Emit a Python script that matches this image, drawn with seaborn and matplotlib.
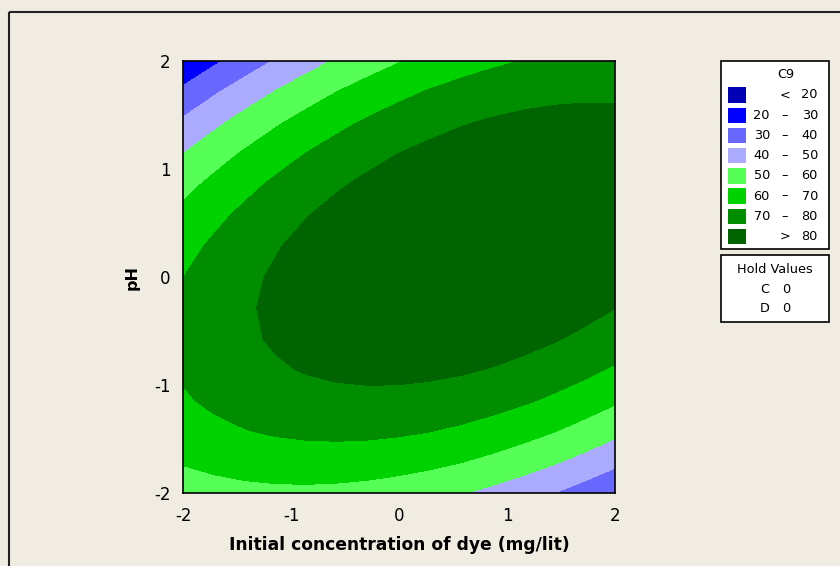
import numpy as np
import matplotlib
matplotlib.use("Agg")
import matplotlib.pyplot as plt
import seaborn as sns
from matplotlib.patches import Rectangle

# ---------------- data ----------------
x_label = "Initial concentration of dye (mg/lit)"
y_label = "pH"
x_ticks = [-2, -1, 0, 1, 2]
y_ticks = [-2, -1, 0, 1, 2]
# quadratic response-surface model (coded units), coefficients
terms = ["const", "A", "B", "A^2", "B^2", "AB"]
coefs = [89.2, 3.47, 1.12, -3.1, -8.0, 4.72]
levels = [20, 30, 40, 50, 60, 70, 80]
legend_left = ["", "20", "30", "40", "50", "60", "70", ""]
legend_sym = ["<", "–", "–", "–", "–", "–", "–", ">"]
legend_right = ["20", "30", "40", "50", "60", "70", "80", "80"]
colors = ["#0000B4", "#0000FF", "#6868FF", "#AAAAFF", "#55FF55", "#00D200", "#008E00", "#006400"]
legend_title = "C9"
hold_title = "Hold Values"
hold_factors = ["C", "D"]
hold_values = [0, 0]

# ---------------- style ----------------
sns.set_style("white")
plt.rcParams["font.family"] = ["DejaVu Sans"]
plt.rcParams["axes.unicode_minus"] = False
plt.rcParams["text.color"] = "black"
plt.rcParams["axes.labelcolor"] = "black"
bg = "#F0ECE2"

W, H = 840, 566
fig = plt.figure(figsize=(W / 100, H / 100), dpi=100, facecolor=bg)

# main axes in pixel layout
L, R, T, B = 183, 615, 61, 493
ax = fig.add_axes([L / W, (H - B) / H, (R - L) / W, (B - T) / H])

pal = sns.color_palette(colors)
grid = np.linspace(x_ticks[0], x_ticks[-1], 15)
A, Bm = np.meshgrid(grid, grid)
c0, c1, c2, c11, c22, c12 = coefs
Z = c0 + c1 * A + c2 * Bm + c11 * A ** 2 + c22 * Bm ** 2 + c12 * A * Bm
cs = ax.contourf(A, Bm, Z, levels=[-1e4] + levels + [1e4], colors=pal)
try:
    cs.set_edgecolor("face")
    cs.set_linewidth(0.3)
except Exception:
    pass

ax.set_xlim(x_ticks[0], x_ticks[-1])
ax.set_ylim(y_ticks[0], y_ticks[-1])
ax.set_xticks(x_ticks)
ax.set_yticks(y_ticks)
ax.set_xticklabels([str(v) for v in x_ticks])
ax.set_yticklabels([str(v) for v in y_ticks])
ax.tick_params(direction="out", length=5.5, width=1.1, color="black",
               labelsize=12, labelcolor="black", pad=3.5)
ax.tick_params(axis="x", pad=4.5)
for s in ax.spines.values():
    s.set_visible(True)
    s.set_color("black")
    s.set_linewidth(1.2)

ax.set_xlabel(x_label, fontsize=12.3, fontweight="bold", va="center", color="black")
ax.xaxis.set_label_coords(0.5, (B - 545) / (B - T))
ax.set_ylabel(y_label, fontsize=11.5, fontweight="bold", va="center", color="black")
ax.yaxis.set_label_coords((131.7 - L) / (R - L), 0.5)

# ---------------- overlay in pixel coordinates ----------------
ov = fig.add_axes([0, 0, 1, 1], facecolor="none")
ov.set_xlim(0, W)
ov.set_ylim(H, 0)
ov.axis("off")

# figure border
ov.add_patch(Rectangle((8.5, 11.5), W, H, fill=False, edgecolor="#222222",
                       linewidth=1.5, clip_on=False))

fs = 9.3
# contour legend box
ov.add_patch(Rectangle((721, 61), 108, 188, facecolor="white", edgecolor="black", linewidth=1.2))
ov.text(786, 75, legend_title, ha="center", va="center", fontsize=fs)
for i in range(len(colors)):
    yc = 95 + i * 20.2
    ov.add_patch(Rectangle((727.7, yc - 7.7), 18, 15.4, facecolor=pal[i], edgecolor="none"))
    if legend_left[i]:
        ov.text(770, yc, legend_left[i], ha="right", va="center", fontsize=fs)
    ov.text(785, yc, legend_sym[i], ha="center", va="center", fontsize=fs)
    ov.text(818, yc, legend_right[i], ha="right", va="center", fontsize=fs)

# hold values box
ov.add_patch(Rectangle((721, 255), 108, 67, facecolor="white", edgecolor="black", linewidth=1.2))
ov.text(775, 269.3, hold_title, ha="center", va="center", fontsize=fs)
for j, (f, v) in enumerate(zip(hold_factors, hold_values)):
    yc = 289.3 + j * 19
    ov.text(765, yc, f, ha="center", va="center", fontsize=fs)
    ov.text(786, yc, str(v), ha="center", va="center", fontsize=fs)

fig.savefig("out.png", dpi=100, facecolor=bg)
